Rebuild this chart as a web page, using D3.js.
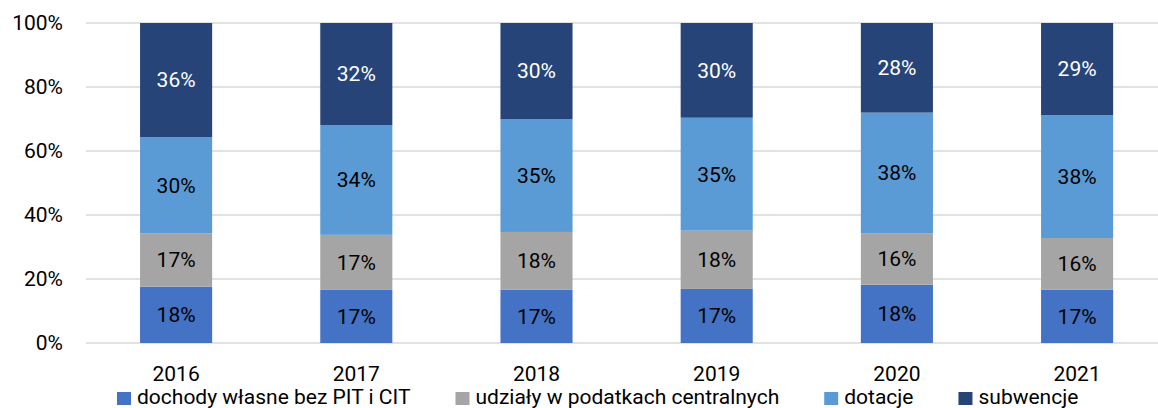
<!DOCTYPE html>
<html>
<head>
<meta charset="utf-8">
<script src="https://cdn.jsdelivr.net/npm/d3@7"></script>
<style>
  body { margin: 0; background: #fff; }
  svg text { font-family: Roboto, Lato, sans-serif; }
</style>
</head>
<body>
<script>
// data
let years = ["2016", "2017", "2018", "2019", "2020", "2021"];
let seriesNames = ["dochody własne bez PIT i CIT", "udziały w podatkach centralnych", "dotacje", "subwencje"];
let dochody = [17.6, 16.6, 16.7, 16.9, 18.2, 16.7];
let udzialy = [16.6, 17.2, 18.0, 18.2, 16.1, 16.1];
let dotacje = [30.1, 34.3, 35.3, 35.3, 37.7, 38.4];
let subwencje = [35.7, 31.9, 30.0, 29.6, 28.0, 28.8];
let yTicks = [0, 20, 40, 60, 80, 100];

let colors = ["#4472C4", "#A5A5A5", "#5B9BD5", "#264478"];
let labelColors = ["#000", "#000", "#000", "#fff"];

let width = 1158, height = 408;
let margin = { top: 23, left: 86, bottom: 65 };
let fontSize = 21;

let svg = d3.select("body").append("svg")
  .attr("width", width)
  .attr("height", height);

// build table for stack
let table = years.map((y, i) => ({
  year: y, s0: dochody[i], s1: udzialy[i], s2: dotacje[i], s3: subwencje[i]
}));
let stack = d3.stack().keys(["s0", "s1", "s2", "s3"])(table);

let xScale = d3.scaleBand()
  .domain(years)
  .range([margin.left, margin.left + 6 * 180.2])
  .paddingInner(0.6)
  .paddingOuter(0.3);

let yScale = d3.scaleLinear()
  .domain([0, 100])
  .range([height - margin.bottom, margin.top]);

// gridlines
svg.append("g")
  .selectAll("line")
  .data(yTicks)
  .enter()
  .append("line")
  .attr("x1", margin.left)
  .attr("x2", width)
  .attr("y1", d => yScale(d))
  .attr("y2", d => yScale(d))
  .attr("stroke", "#D9D9D9")
  .attr("stroke-width", 1.5);

// y axis
let yAxis = d3.axisLeft(yScale)
  .tickValues(yTicks)
  .tickFormat(d => d + "%")
  .tickSize(0)
  .tickPadding(23);

let yG = svg.append("g")
  .attr("transform", "translate(" + margin.left + ",0)")
  .call(yAxis);
yG.select(".domain").remove();
yG.selectAll("text").attr("font-size", fontSize).attr("fill", "#000");

// x axis
let xAxis = d3.axisBottom(xScale).tickSize(0).tickPadding(38);
let xG = svg.append("g")
  .attr("transform", "translate(0," + yScale(0) + ")")
  .call(xAxis);
xG.select(".domain").remove();
xG.selectAll("text").attr("font-size", fontSize).attr("fill", "#000").attr("dy", "0");

// bars
let layers = svg.selectAll(".layer")
  .data(stack)
  .enter()
  .append("g")
  .attr("class", "layer")
  .attr("fill", (d, i) => colors[i]);

layers.selectAll("rect")
  .data(d => d)
  .enter()
  .append("rect")
  .attr("x", d => xScale(d.data.year))
  .attr("width", xScale.bandwidth())
  .attr("y", d => yScale(d[1]))
  .attr("height", d => yScale(d[0]) - yScale(d[1]));

// labels
stack.forEach((layer, li) => {
  svg.append("g")
    .selectAll("text")
    .data(layer)
    .enter()
    .append("text")
    .attr("x", d => xScale(d.data.year) + xScale.bandwidth() / 2)
    .attr("y", d => yScale((d[0] + d[1]) / 2))
    .attr("dy", "0.35em")
    .attr("text-anchor", "middle")
    .attr("font-size", fontSize)
    .attr("fill", labelColors[li])
    .text(d => Math.round(d[1] - d[0]) + "%");
});

// legend
let legend = svg.append("g").attr("class", "legend");
let lx = 117;
seriesNames.forEach((name, i) => {
  legend.append("rect")
    .attr("x", lx)
    .attr("y", 392)
    .attr("width", 14)
    .attr("height", 13)
    .attr("fill", colors[i]);
  let t = legend.append("text")
    .attr("x", lx + 20)
    .attr("y", 404)
    .attr("font-size", fontSize)
    .attr("fill", "#000")
    .text(name);
  lx += 20 + t.node().getComputedTextLength() + 45;
});
</script>
</body>
</html>
